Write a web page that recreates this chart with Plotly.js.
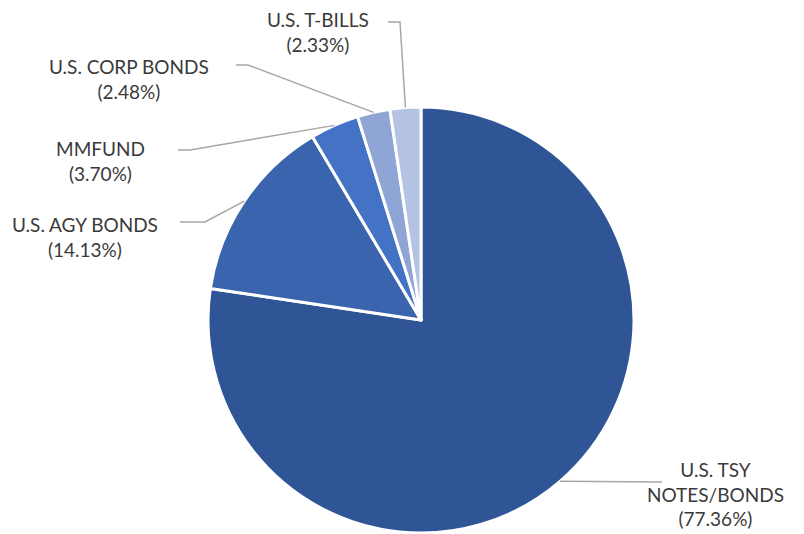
<!DOCTYPE html>
<html>
<head>
<meta charset="utf-8">
<script src="https://cdn.plot.ly/plotly-3.0.1.min.js"></script>
<style>html,body{margin:0;padding:0;background:#fff;}#chart{width:804px;height:534px;}</style>
</head>
<body>
<div id="chart"></div>
<script>
// Data
var labels = ["U.S. TSY NOTES/BONDS", "U.S. AGY BONDS", "MMFUND", "U.S. CORP BONDS", "U.S. T-BILLS"];
var labelText = ["U.S. TSY<br>NOTES/BONDS", "U.S. AGY BONDS", "MMFUND", "U.S. CORP BONDS", "U.S. T-BILLS"];
var values = [77.36, 14.13, 3.70, 2.48, 2.33];
var colors = ["#2F5597", "#3A64AD", "#4472C4", "#8FA5D5", "#B4C2E4"];

// Layout (pixel positions of label blocks and leader elbows)
var W = 804, H = 534;
var cx = 421, cy = 320, R = 213;
var labelPos = [[715, 494], [85, 237], [100, 161], [129, 79], [318, 32]];
var elbows = [[[662, 482]], [[205, 222], [180, 222]], [[190, 150], [178, 150]], [[248, 65], [236, 65]], [[400, 22], [388, 22]]];

function px(x) { return x / W; }
function py(y) { return 1 - y / H; }

var total = values.reduce(function (a, b) { return a + b; }, 0);
var annotations = [], shapes = [];
var cum = 0;
for (var i = 0; i < values.length; i++) {
  var mid = (cum + values[i] / 2) / total * 2 * Math.PI;
  cum += values[i];
  var sx = cx + R * Math.sin(mid), sy = cy - R * Math.cos(mid);
  var path = "M" + px(sx) + "," + py(sy);
  elbows[i].forEach(function (p) { path += " L" + px(p[0]) + "," + py(p[1]); });
  shapes.push({type: "path", xref: "paper", yref: "paper", path: path,
    line: {color: "#A6A6A6", width: 1.5}});
  annotations.push({xref: "paper", yref: "paper", x: px(labelPos[i][0]), y: py(labelPos[i][1]),
    xanchor: "center", yanchor: "middle", showarrow: false, align: "center",
    text: labelText[i] + "<br>(" + values[i].toFixed(2) + "%)",
    font: {family: "Lato, 'Open Sans', sans-serif", size: 19, color: "#3A3A3A"}});
}

var trace = {
  type: "pie", labels: labels, values: values, sort: false, direction: "clockwise", rotation: 0,
  marker: {colors: colors, line: {color: "#FFFFFF", width: 3}},
  textinfo: "none", hoverinfo: "skip", showlegend: false,
  domain: {x: [px(cx - R), px(cx + R)], y: [py(cy + R), py(cy - R)]}
};

var layout = {
  width: W, height: H, margin: {l: 0, r: 0, t: 0, b: 0},
  paper_bgcolor: "#FFFFFF", plot_bgcolor: "#FFFFFF",
  showlegend: false, annotations: annotations, shapes: shapes
};
Plotly.newPlot("chart", [trace], layout, {displayModeBar: false, staticPlot: true});
</script>
</body>
</html>
